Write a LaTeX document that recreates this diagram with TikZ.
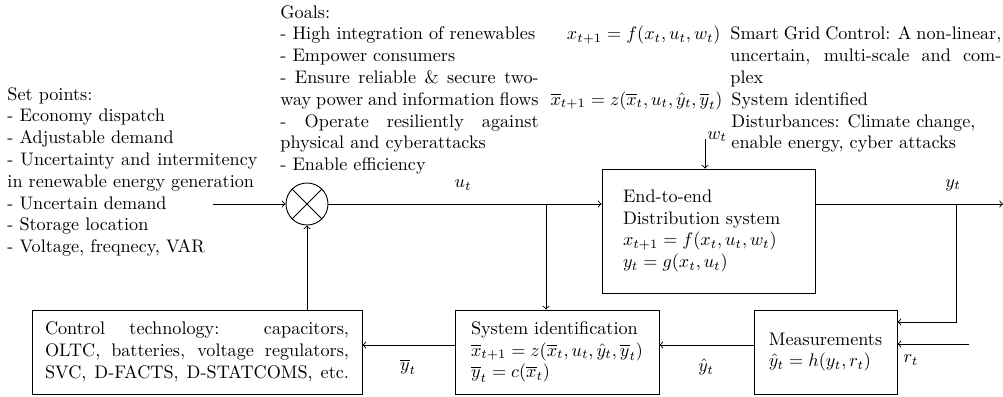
\documentclass[tikz,border=0pt]{standalone}
\usetikzlibrary{calc}
\begin{document}
\begin{tikzpicture}[x=0.55pt,y=-0.55pt,line width=0.5pt,
  blk/.style={draw,inner ysep=0pt,minimum height=46.2pt},
  txt/.style={inner sep=0pt,anchor=base west},
  lbl/.style={inner sep=0pt},
  conn/.style={->}]
\useasboundingbox (0,0) rectangle (1003,396);

% text blocks
\node[txt] (setp) at (7,100) {\parbox[t]{137.5pt}{\parindent=0pt
Set points:\par
- Economy dispatch\par
- Adjustable demand\par
- Uncertainty and intermitency\linebreak in renewable energy generation\par
- Uncertain demand\par
- Storage location\par
- Voltage, freqnecy, VAR}};

\node[txt] (goals) at (280,18) {\parbox[t]{142pt}{\parindent=0pt
Goals:\par
- High integration of renewables\par
- Empower consumers\par
- Ensure reliable \& secure two-\linebreak way power and information flows\par
- Operate resiliently against\linebreak physical and cyberattacks\par
- Enable efficiency}};

\node[inner sep=0pt,anchor=base east] (eqf) at (721,39.8) {$x_{t+1} = f(x_t,u_t,w_t)$};
\node[txt] (smart) at (730,39.8) {\parbox[t]{149pt}{\parindent=0pt
Smart Grid Control: A non-linear,\linebreak uncertain, multi-scale and com-\linebreak plex}};
\node[inner sep=0pt,anchor=base east] (eqz) at (723,105.2) {$\overline{x}_{t+1} = z(\overline{x}_t,u_t,\hat{y}_t,\overline{y}_t)$};
\node[txt] (ident) at (731,105.2) {System identified};
\node[txt] (dist) at (731,127) {\parbox[t]{149pt}{\parindent=0pt
Disturbances: Climate change,\\ enable energy, cyber attacks}};

% blocks
\node[draw,circle,minimum size=23.1pt,inner sep=0pt] (sum) at (307,204) {};
\draw (sum.north west) -- (sum.south east);
\draw (sum.north east) -- (sum.south west);

\node[blk,minimum width=117.15pt,minimum height=68.2pt,text width=94.05pt,inner xsep=11.55pt,align=left] (plant) at (708.5,231)
 {End-to-end\\ Distribution system\\ $x_{t+1} = f(x_t,u_t,w_t)$\\ $y_t = g(x_t,u_t)$};

\node[blk,minimum width=112.2pt,align=left,inner xsep=0pt] (sysid) at (557,352)
 {System identification\\ $\overline{x}_{t+1} = z(\overline{x}_t,u_t,\hat{y}_t,\overline{y}_t)$\\ $\overline{y}_t = c(\overline{x}_t)$};

\node[blk,minimum width=78.65pt,align=left,inner xsep=0pt] (meas) at (825.5,352)
 {Measurements\\ $\hat{y}_t = h(y_t,r_t)$};

\node[blk,minimum width=181.5pt,inner xsep=7.15pt] (ctrl) at (197,352)
 {\parbox{167.2pt}{\parindent=0pt\parfillskip=0pt
 Control technology: capacitors,\linebreak OLTC, batteries, voltage regulators,\linebreak SVC, D-FACTS, D-STATCOMS, etc.}};

% coordinates
\coordinate (in) at (213,204);
\coordinate (br1) at (546,204);
\coordinate (br2) at (956,204);
\coordinate (out) at (1003,204);
\coordinate (wtop) at (705,139);
\coordinate (rin) at (969,344);

% connectors
\draw[conn] (in) -- (sum.west);
\draw[conn] (sum.east) -- (sum.east -| plant.west);
\draw[conn] (br1) -- (br1 |- sysid.north);
\draw[conn] (wtop) -- (wtop |- plant.north);
\draw[conn] (plant.east |- sum) -- (out);
\draw[conn] (br2) |- ([yshift=16.5pt]meas.east);
\draw[conn] (rin) -- (rin -| meas.east);
\draw[conn] ([yshift=3.85pt]meas.west) -- ([yshift=3.85pt]sysid.east);
\draw[conn] ([yshift=3.85pt]sysid.west) -- ([yshift=3.85pt]ctrl.east);
\draw[conn] (ctrl.north -| sum) -- (sum.south);

% labels
\node[lbl] (ul) at (463,185) {$u_t$};
\node[lbl] (yl) at (953,185) {$y_t$};
\node[lbl,anchor=base west] (wl) at (707,139) {$w_t$};
\node[lbl] (yhl) at (706,367) {$\hat{y}_t$};
\node[lbl] (ybl) at (408,367) {$\overline{y}_t$};
\node[lbl] (rl) at (911,360) {$r_t$};
\end{tikzpicture}
\end{document}
